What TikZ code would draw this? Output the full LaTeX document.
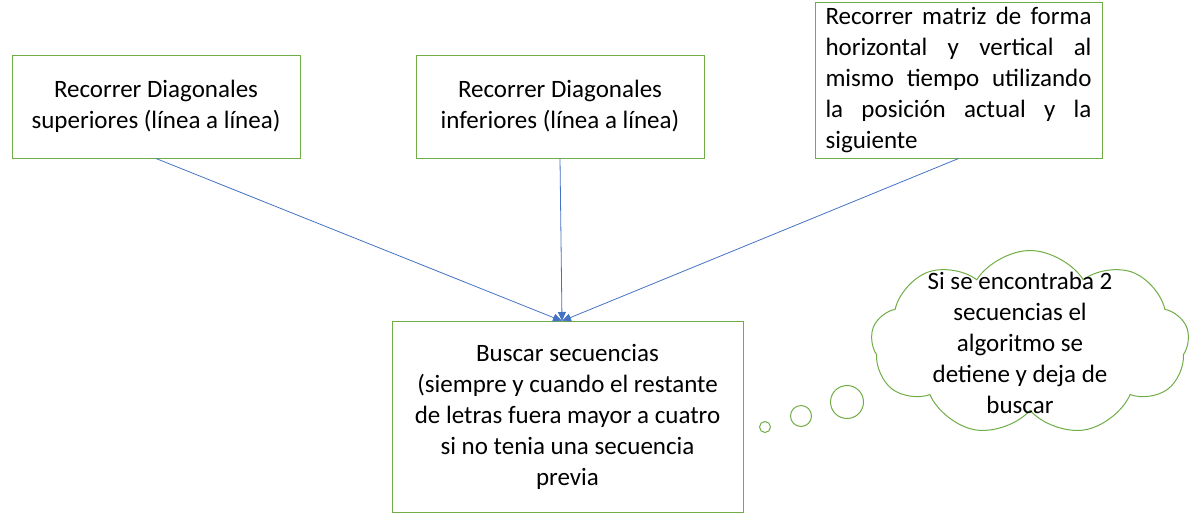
\documentclass[tikz,border=0pt]{standalone}
\usepackage{fontspec}
\setmainfont{Carlito}
\usetikzlibrary{arrows.meta,positioning,shapes.symbols}
\definecolor{boxgreen}{HTML}{70AD47}
\definecolor{arrowblue}{HTML}{4472C4}
\tikzstyle{caja}=[draw=boxgreen,line width=1pt,inner sep=0pt,align=center,font=\fontsize{25}{31}\selectfont]
\tikzstyle{flecha}=[draw=arrowblue,line width=0.8pt,-{Triangle[width=8pt,length=9pt]}]
\tikzstyle{burbuja}=[circle,draw=boxgreen,line width=1pt,inner sep=0pt]
\begin{document}
\begin{tikzpicture}[x=1pt,y=-1pt]
  \useasboundingbox (0,0) rectangle (1204,520);
  \node[caja, minimum width=288pt, minimum height=103pt] at (156, 106.5) (sup) {Recorrer Diagonales\\superiores (línea a línea)};
  \node[caja, minimum width=288pt, minimum height=103pt] at (560, 106.5) (inf) {Recorrer Diagonales\\inferiores (línea a línea)};
  \node[caja, minimum width=287pt, minimum height=156pt] at (958.5, 80) (matriz) {\parbox{266pt}{\fontsize{25}{31}\selectfont\hyphenpenalty=10000
    Recorrer matriz de forma\linebreak horizontal y vertical al\linebreak mismo tiempo utilizando\linebreak la posición actual y la\linebreak siguiente}};
  \node[caja, minimum width=351pt, minimum height=191pt] at (567.5, 416.5) (buscar) {Buscar secuencias\\(siempre y cuando el restante\\de letras fuera mayor a cuatro\\si no tenia una secuencia\\previa};
  \coordinate (meta) at (562, 321);

  \draw[flecha] (sup.south) -- (meta);
  \draw[flecha] (inf.south) -- (meta);
  \draw[flecha] (matriz.south) -- (meta);

  \node[cloud, draw=boxgreen, line width=1pt, cloud puffs=9, cloud puff arc=115, cloud ignores aspect, minimum width=318pt, minimum height=185pt] at (1030, 343) (nube) {};
  \node[align=center, font=\fontsize{25}{31}\selectfont] at (1020, 343) (nota) {Si se encontraba 2\\secuencias el\\algoritmo se\\detiene y deja de\\buscar};
  \node[burbuja, minimum size=33pt] at (847, 402) (b3) {};
  \node[burbuja, minimum size=21pt] at (801, 416) (b2) {};
  \node[burbuja, minimum size=11pt] at (765, 427) (b1) {};
\end{tikzpicture}
\end{document}
